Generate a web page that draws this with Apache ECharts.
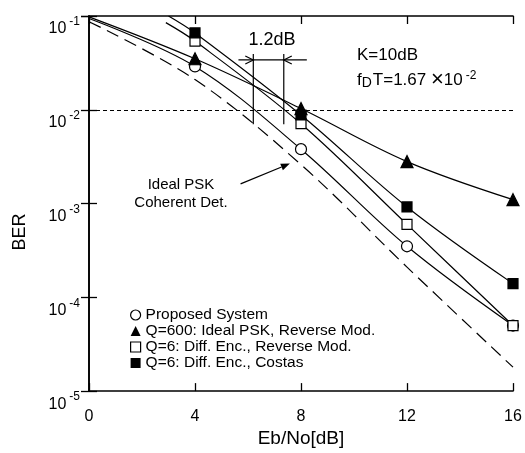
<!DOCTYPE html>
<html><head><meta charset="utf-8">
<script src="https://cdn.jsdelivr.net/npm/echarts@6/dist/echarts.min.js"></script>
<style>html,body{margin:0;padding:0;background:#fff}#c{width:525px;height:453px}</style>
</head><body><div id="c"></div>
<script>
// ---- data ----
const xTicks = [0, 4, 8, 12, 16];
const markX = [4, 8, 12, 16];
const proposedBER = [0.029, 0.0038, 0.00035, 0.00005];
const q600BER = [0.035, 0.0103, 0.0028, 0.0011];
const diffRevBER = [0.054, 0.0071, 0.0006, 0.00005];
const costasBER = [0.066, 0.0088, 0.00092, 0.00014];
// start points of the curves (no marker there)
const proposedStart = [0, 0.094];
const q600Start = [0, 0.098];
const diffRevStart = [2.9, 0.085];
const costasStart = [3.0, 0.1];
// ideal PSK coherent detection (dashed)
const idealX = [0, 4, 8, 12, 16];
const idealBER = [0.087, 0.021, 0.0026, 0.00021, 0.000018];
const yExp = [-5, -4, -3, -2, -1];
const seriesNames = ['Proposed System', 'Q=600: Ideal PSK, Reverse Mod.', 'Q=6: Diff. Enc., Reverse Mod.', 'Q=6: Diff. Enc., Costas'];
// annotation anchors (data coords)
const gapLeftX = 6.2, gapRightX = 7.35, gapTop = 0.0393, gapBottom = 0.0070;
const gapArrowY = 0.034, gapArrowX0 = 5.64, gapArrowX1 = 8.22;
const idealArrowFrom = [5.72, 0.00162], idealArrowTo = [7.58, 0.00267];

const FONT = '"Liberation Sans", Arial, Helvetica, sans-serif';
const chart = echarts.init(document.getElementById('c'), null, {renderer: 'canvas'});

function markSeries(name, start, vals, symbol, fill, size) {
  return {
    type: 'line', name: name, smooth: 0.35, clip: true,
    data: [{value: start, symbol: 'none'}].concat(vals.map((v, i) => [markX[i], v])),
    symbol: symbol, symbolSize: size, showAllSymbol: true,
    itemStyle: {color: fill, borderColor: '#000', borderWidth: 1.2},
    lineStyle: {color: '#000', width: 1.2},
    emphasis: {disabled: true}
  };
}

const axisCommon = {
  axisLine: {show: true, lineStyle: {color: '#000', width: 1.6}},
  axisTick: {show: true, inside: true, length: 8, lineStyle: {color: '#000', width: 1.3}},
  splitLine: {show: false}
};

const option = {
  animation: false,
  backgroundColor: '#fff',
  textStyle: {fontFamily: FONT, color: '#000'},
  grid: {left: 89, right: 12, top: 16, bottom: 53, containLabel: false},
  xAxis: [
    Object.assign({type: 'value', min: 0, max: 16, interval: 4, position: 'bottom',
      name: 'Eb/No[dB]', nameLocation: 'middle', nameGap: 36,
      nameTextStyle: {fontSize: 19, color: '#000', fontFamily: FONT},
      axisLabel: {fontSize: 16, color: '#000', margin: 17, fontFamily: FONT,
        formatter: v => xTicks.indexOf(v) >= 0 ? String(v) : ''}}, axisCommon),
    Object.assign({type: 'value', min: 0, max: 16, interval: 4, position: 'top',
      axisLabel: {show: false}}, axisCommon)
  ],
  yAxis: [
    Object.assign({type: 'log', logBase: 10, min: 1e-5, max: 1e-1, interval: 1, position: 'left',
      axisLabel: {margin: 9, color: '#000', verticalAlign: 'top', fontFamily: FONT,
        formatter: v => { const e = Math.round(Math.log10(v)); return yExp.indexOf(e) >= 0 ? '{b|10}{s|' + e + '}' : ''; },
        rich: {
          b: {fontSize: 16, lineHeight: 21, verticalAlign: 'bottom', fontFamily: FONT, color: '#000'},
          s: {fontSize: 12, lineHeight: 12, verticalAlign: 'top', padding: [0, 0, 0, 3], fontFamily: FONT, color: '#000'}
        }}}, axisCommon),
    Object.assign({type: 'log', logBase: 10, min: 1e-5, max: 1e-1, interval: 1, position: 'right',
      axisLabel: {show: false}}, axisCommon)
  ],
  legend: {
    orient: 'vertical', left: 125, top: 302, itemGap: 0, itemWidth: 10, itemHeight: 10,
    selectedMode: false,
    textStyle: {fontSize: 15.5, lineHeight: 15.5, color: '#000', fontFamily: FONT},
    data: [
      {name: seriesNames[0], icon: 'circle', itemStyle: {color: '#fff', borderColor: '#000', borderWidth: 1.2}},
      {name: seriesNames[1], icon: 'triangle', itemStyle: {color: '#000', borderColor: '#000', borderWidth: 0}},
      {name: seriesNames[2], icon: 'rect', itemStyle: {color: '#fff', borderColor: '#000', borderWidth: 1.2}},
      {name: seriesNames[3], icon: 'rect', itemStyle: {color: '#000', borderColor: '#000', borderWidth: 0}}
    ]
  },
  series: [
    {
      type: 'line', name: 'Ideal PSK Coherent Det.', smooth: 0.35, symbol: 'none', clip: true,
      data: idealX.map((x, i) => [x, idealBER[i]]),
      lineStyle: {color: '#000', width: 1.2, type: [13, 7]},
      emphasis: {disabled: true},
      markLine: {silent: true, symbol: 'none', label: {show: false},
        lineStyle: {color: '#000', width: 1, type: [4, 3]},
        data: [{yAxis: 0.01}]}
    },
    markSeries(seriesNames[0], proposedStart, proposedBER, 'circle', '#fff', 11),
    markSeries(seriesNames[1], q600Start, q600BER, 'triangle', '#000', 12),
    markSeries(seriesNames[2], diffRevStart, diffRevBER, 'rect', '#fff', 10),
    markSeries(seriesNames[3], costasStart, costasBER, 'rect', '#000', 10)
  ]
};
chart.setOption(option);

function px(x, y) { return chart.convertToPixel({gridIndex: 0}, [x, y]); }
const L0 = px(gapLeftX, gapTop), L1 = px(gapLeftX, gapBottom);
const R0 = px(gapRightX, gapTop), R1 = px(gapRightX, gapBottom);
const H0 = px(gapArrowX0, gapArrowY), H1 = px(gapArrowX1, gapArrowY);
const HL = px(gapLeftX, gapArrowY), HR = px(gapRightX, gapArrowY);
const A0 = px(idealArrowFrom[0], idealArrowFrom[1]), A1 = px(idealArrowTo[0], idealArrowTo[1]);
const ls = {stroke: '#000', lineWidth: 1.2, fill: null};
// filled arrowhead for ideal arrow
const ang = Math.atan2(A1[1] - A0[1], A1[0] - A0[0]);
const ah = 9, aw = 3.5;
const back = [A1[0] - ah * Math.cos(ang), A1[1] - ah * Math.sin(ang)];
const head = [A1, [back[0] + aw * Math.sin(ang), back[1] - aw * Math.cos(ang)], [back[0] - aw * Math.sin(ang), back[1] + aw * Math.cos(ang)]];

chart.setOption({
  graphic: [
    {type: 'line', shape: {x1: L0[0], y1: L0[1], x2: L1[0], y2: L1[1]}, style: ls, silent: true},
    {type: 'line', shape: {x1: R0[0], y1: R0[1], x2: R1[0], y2: R1[1]}, style: ls, silent: true},
    {type: 'line', shape: {x1: H0[0], y1: H0[1], x2: H1[0], y2: H1[1]}, style: ls, silent: true},
    {type: 'polyline', shape: {points: [[HL[0] - 8, HL[1] - 4], [HL[0], HL[1]], [HL[0] - 8, HL[1] + 4]]}, style: ls, silent: true},
    {type: 'polyline', shape: {points: [[HR[0] + 8, HR[1] - 4], [HR[0], HR[1]], [HR[0] + 8, HR[1] + 4]]}, style: ls, silent: true},
    {type: 'line', shape: {x1: A0[0], y1: A0[1], x2: back[0], y2: back[1]}, style: ls, silent: true},
    {type: 'polygon', shape: {points: head}, style: {fill: '#000'}, silent: true},
    {type: 'text', x: 272, y: 40, silent: true, style: {text: '1.2dB', font: '18px ' + FONT, fill: '#000', align: 'center', verticalAlign: 'middle'}},
    {type: 'text', x: 357, y: 55, silent: true, style: {text: 'K=10dB', font: '17px ' + FONT, fill: '#000', align: 'left', verticalAlign: 'middle'}},
    {type: 'text', x: 357, y: 80, silent: true, style: {
      text: '{n|f}{d|D}{n|T=1.67 }{x|×}{n|10}{p|-2}', align: 'left', verticalAlign: 'middle', fill: '#000',
      rich: {
        n: {fontSize: 17, fontFamily: FONT, lineHeight: 20},
        x: {fontSize: 22, fontFamily: FONT, lineHeight: 20},
        d: {fontSize: 14, fontFamily: FONT, lineHeight: 14, verticalAlign: 'bottom', padding: [0, 1, 0, 0]},
        p: {fontSize: 12, fontFamily: FONT, lineHeight: 12, verticalAlign: 'top', padding: [0, 0, 0, 3]}
      }}},
    {type: 'text', x: 181, y: 185, silent: true, style: {text: 'Ideal PSK', font: '15px ' + FONT, fill: '#000', align: 'center', verticalAlign: 'middle'}},
    {type: 'text', x: 181, y: 203, silent: true, style: {text: 'Coherent Det.', font: '15px ' + FONT, fill: '#000', align: 'center', verticalAlign: 'middle'}},
    {type: 'text', x: 20, y: 232, rotation: Math.PI / 2, silent: true, style: {text: 'BER', font: '18px ' + FONT, fill: '#000', align: 'center', verticalAlign: 'middle'}}
  ]
});
</script></body></html>
